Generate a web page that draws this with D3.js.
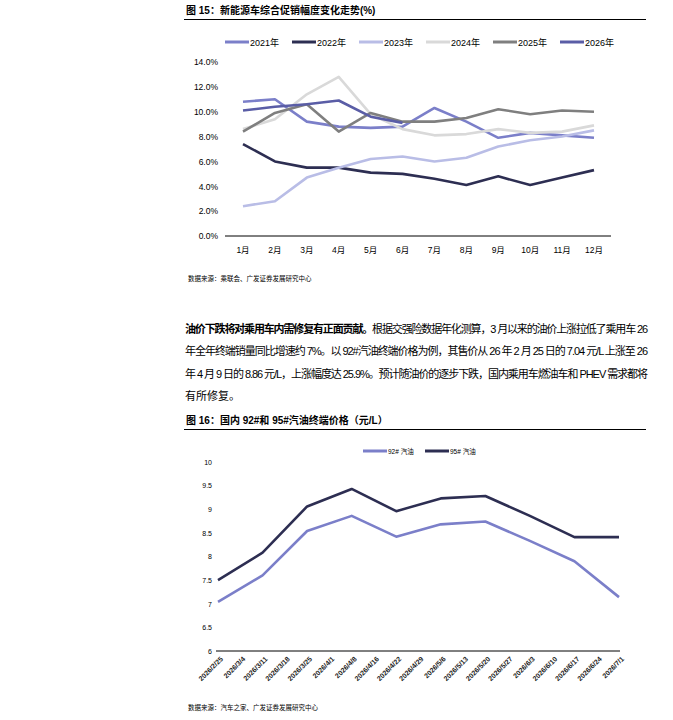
<!DOCTYPE html>
<meta charset="utf-8">
<style>
  body { margin: 0; background: #fff; }
  text { font-family: "Liberation Sans", "Noto Sans CJK SC", sans-serif; }
  .tick line { display: none; }
  .axis--y path { display: none; }
</style>
<svg width="673" height="720"></svg>
<script src="https://d3js.org/d3.v7.min.js"></script>
<script>
// chart 15 data
var months = ["1月","2月","3月","4月","5月","6月","7月","8月","9月","10月","11月","12月"];
var years = ["2021年","2022年","2023年","2024年","2025年","2026年"];
var yearColors = ["#7b7fc9","#2d2e52","#b9bde6","#d9d9d9","#7f7f7f","#5a5da6"];
var promo2021 = [10.8,11.0,9.2,8.8,8.7,8.8,10.3,9.2,7.9,8.3,8.1,7.9];
var promo2022 = [7.4,6.0,5.5,5.5,5.1,5.0,4.6,4.1,4.8,4.1,4.7,5.3];
var promo2023 = [2.4,2.8,4.7,5.5,6.2,6.4,6.0,6.3,7.2,7.7,8.0,8.5];
var promo2024 = [8.6,9.4,11.4,12.8,9.8,8.6,8.1,8.2,8.6,8.3,8.4,8.9];
var promo2025 = [8.4,9.9,10.6,8.4,9.9,9.2,9.2,9.5,10.2,9.8,10.1,10.0];
var promo2026 = [10.1,10.4,10.6,10.9,9.6,9.1];
var promoTicks = [0,2,4,6,8,10,12,14];

// chart 16 data
var dates = ["2026/2/25","2026/3/4","2026/3/11","2026/3/18","2026/3/25","2026/4/1","2026/4/8","2026/4/16","2026/4/22","2026/4/29","2026/5/6","2026/5/13","2026/5/20","2026/5/27","2026/6/3","2026/6/10","2026/6/17","2026/6/24","2026/7/1"];
var priceDates = ["2026/2/25","2026/3/11","2026/3/25","2026/4/8","2026/4/22","2026/5/6","2026/5/20","2026/6/3","2026/6/17","2026/7/1"];
var price92 = [7.04,7.6,8.54,8.86,8.42,8.68,8.74,8.33,7.9,7.14];
var price95 = [7.5,8.08,9.06,9.43,8.96,9.23,9.28,8.86,8.41,8.41];
var priceTicks = [6,6.5,7,7.5,8,8.5,9,9.5,10];

var svg = d3.select("svg");

// ---- figure 15 ----
svg.append("text").attr("x", 186).attr("y", 14).attr("font-size", 10).attr("font-weight", "bold")
  .text("图  15：新能源车综合促销幅度变化走势(%)");
svg.append("line").attr("x1", 184).attr("x2", 646).attr("y1", 19.5).attr("y2", 19.5).attr("stroke", "#000");

var x1 = d3.scalePoint().domain(months).range([243, 594]);
var y1 = d3.scaleLinear().domain([0, 14]).range([236, 62]);

svg.append("g").attr("class", "axis axis--y").attr("transform", "translate(220,0)")
  .call(d3.axisLeft(y1).tickValues(promoTicks).tickSize(0).tickPadding(2).tickFormat(function(d) { return d.toFixed(1) + "%"; }))
  .selectAll("text").attr("font-size", 8.5).attr("fill", "#000");

svg.append("line").attr("x1", 225).attr("x2", 611).attr("y1", 236).attr("y2", 236).attr("stroke", "#000");
months.forEach(function(m) {
  svg.append("text").attr("x", x1(m)).attr("y", 253).attr("text-anchor", "middle").attr("font-size", 8.5).text(m);
});

var promo = [promo2021, promo2022, promo2023, promo2024, promo2025, promo2026];
var line1 = d3.line().x(function(d, i) { return x1(months[i]); }).y(function(d) { return y1(d); });
promo.forEach(function(s, k) {
  svg.append("path").datum(s).attr("fill", "none").attr("stroke", yearColors[k])
    .attr("stroke-width", 2.6).attr("stroke-linejoin", "round").attr("d", line1);
});

years.forEach(function(yr, k) {
  var lx = 225 + k * 67;
  svg.append("line").attr("x1", lx).attr("x2", lx + 24).attr("y1", 42).attr("y2", 42)
    .attr("stroke", yearColors[k]).attr("stroke-width", 3);
  svg.append("text").attr("x", lx + 25).attr("y", 45.5).attr("font-size", 9).text(yr);
});

svg.append("text").attr("x", 188).attr("y", 281).attr("font-size", 6.5).text("数据来源：乘联会、广发证券发展研究中心");

// ---- paragraph ----
var para = [
  [["油价下跌将对乘用车内需修复有正面贡献。", true], ["根据交强险数据年化测算，3 月以来的油价上涨拉低了乘用车 26", false]],
  [["年全年终端销量同比增速约 7%。以 92#汽油终端价格为例，其售价从 26 年 2 月 25 日的 7.04 元/L 上涨至 26", false]],
  [["年 4 月 9 日的 8.86 元/L，上涨幅度达 25.9%。预计随油价的逐步下跌，国内乘用车燃油车和 PHEV 需求都将", false]],
  [["有所修复。", false]]
];
para.forEach(function(parts, i) {
  var t = svg.append("text").attr("x", 185).attr("y", 333 + i * 22.3).attr("font-size", 11)
    .attr("textLength", i < 3 ? 463 : null).attr("lengthAdjust", "spacing");
  parts.forEach(function(p) {
    t.append("tspan").attr("font-weight", p[1] ? "bold" : "normal").text(p[0]);
  });
});

// ---- figure 16 ----
svg.append("text").attr("x", 186).attr("y", 424).attr("font-size", 10).attr("font-weight", "bold")
  .text("图  16：国内 92#和 95#汽油终端价格（元/L）");
svg.append("line").attr("x1", 184).attr("x2", 646).attr("y1", 429.5).attr("y2", 429.5).attr("stroke", "#000");

var x2 = d3.scalePoint().domain(dates).range([218, 619]);
var y2 = d3.scaleLinear().domain([6, 10]).range([651, 462]);

svg.append("g").attr("class", "axis axis--y").attr("transform", "translate(212,0)")
  .call(d3.axisLeft(y2).tickValues(priceTicks).tickSize(0).tickPadding(0).tickFormat(d3.format("")))
  .selectAll("text").attr("font-size", 7).attr("fill", "#000");

svg.append("line").attr("x1", 216).attr("x2", 620).attr("y1", 651).attr("y2", 651).attr("stroke", "#000");
dates.forEach(function(d) {
  svg.append("text").attr("transform", "translate(" + (x2(d) + 3) + ",657) rotate(-45)")
    .attr("text-anchor", "end").attr("font-size", 7).attr("font-weight", "bold").attr("fill", "#222")
    .attr("dy", "0.5em").text(d);
});

var line2 = d3.line().x(function(d, i) { return x2(priceDates[i]); }).y(function(d) { return y2(d); });
[[price92, "#7b7fc9"], [price95, "#2d2e52"]].forEach(function(s) {
  svg.append("path").datum(s[0]).attr("fill", "none").attr("stroke", s[1])
    .attr("stroke-width", 2.6).attr("stroke-linejoin", "round").attr("d", line2);
});

[["92# 汽油", "#7b7fc9", 363], ["95# 汽油", "#2d2e52", 425]].forEach(function(l) {
  svg.append("line").attr("x1", l[2]).attr("x2", l[2] + 24).attr("y1", 451).attr("y2", 451)
    .attr("stroke", l[1]).attr("stroke-width", 3);
  svg.append("text").attr("x", l[2] + 25).attr("y", 454).attr("font-size", 6.5).text(l[0]);
});

svg.append("text").attr("x", 188).attr("y", 710).attr("font-size", 6.5).text("数据来源：汽车之家、广发证券发展研究中心");
</script>
